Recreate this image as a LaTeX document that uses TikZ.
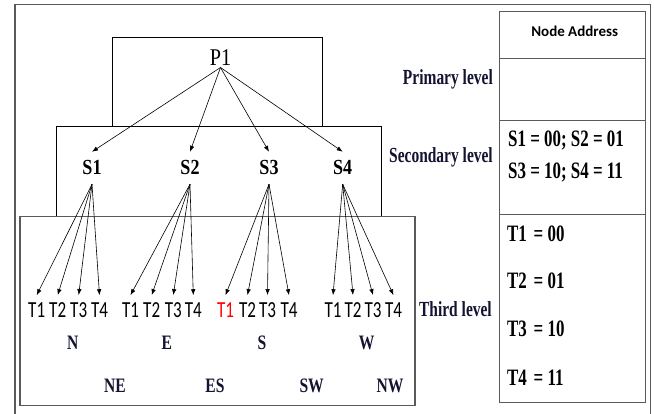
\documentclass[tikz,border=0pt]{standalone}
\usepackage{fontspec}
\usetikzlibrary{arrows.meta}
\newfontfamily\tnrC[FakeStretch=0.72]{Liberation Serif}
\newfontfamily\tnrD[FakeStretch=0.76]{Liberation Serif}
\newfontfamily\tnrW[FakeStretch=0.84]{Liberation Serif}
\newfontfamily\calC[FakeStretch=0.74]{Carlito}
\newfontfamily\calN{Carlito}
\definecolor{navytext}{RGB}{20,20,50}
\definecolor{framegray}{RGB}{90,90,90}
\begin{document}
\begin{tikzpicture}[x=1pt,y=-1pt,
  lbl/.style={anchor=base east, inner sep=0pt, font=\tnrC\bfseries\fontsize{21.5}{25}\selectfont, text=navytext},
  dirlbl/.style={anchor=base, inner sep=0pt, font=\tnrD\bfseries\fontsize{20.5}{24}\selectfont, text=navytext},
  snode/.style={anchor=base, inner sep=0pt, outer xsep=0pt, outer ysep=9pt, font=\tnrW\bfseries\fontsize{21.5}{25}\selectfont},
  tnode/.style={anchor=base, inner sep=0pt, outer xsep=0pt, outer ysep=8pt, font=\calC\fontsize{23}{27}\selectfont},
  addr/.style={anchor=base west, inner sep=0pt, font=\tnrC\bfseries\fontsize{23.5}{27}\selectfont},
  box/.style={draw=black, line width=0.8pt},
  arr/.style={-{Latex[length=6pt,width=4.5pt]}, line width=0.6pt}
]
\useasboundingbox (0,0) rectangle (654,414);
\fill[white] (0,0) rectangle (654,414);

% outer frame
\draw[framegray, line width=1.3pt] (15,414) -- (15,4.5) -- (650.3,4.5) -- (650.3,414);

% level boxes
\draw[box] (112.7,37.3) rectangle (322.3,126.7);
\draw[box] (56.7,126.7) rectangle (381.7,216.7);
\draw[box, draw=framegray, line width=1.1pt] (20,216.7) rectangle (415,405.7);

% address table
\draw[box, draw=framegray, line width=1pt] (499.3,12) rectangle (645.7,402.7);
\draw[framegray, line width=1pt] (499.3,59) -- (645.7,59);
\draw[framegray, line width=1pt] (499.3,120.7) -- (645.7,120.7);
\draw[framegray, line width=1pt] (499.3,214.7) -- (645.7,214.7);

\node[anchor=base, inner sep=0pt, font=\calN\bfseries\fontsize{15}{18}\selectfont] (na) at (574.7,37) {Node Address};
\node[addr] (sa) at (508,147) {S1 = 00; S2 = 01};
\node[addr] (sb) at (508,179) {S3 = 10; S4 = 11};
\node[addr] (ta) at (507,241.5) {T1\hspace{2.5pt} = 00};
\node[addr] (tb) at (507,289) {T2\hspace{2.5pt} = 01};
\node[addr] (tc) at (507,337) {T3\hspace{2.5pt} = 10};
\node[addr] (td) at (507,385) {T4\hspace{2.5pt} = 11};

% level labels
\node[lbl] (lp) at (493,85) {Primary level};
\node[lbl] (ls) at (493,163) {Secondary level};
\node[lbl] (lt) at (492,317) {Third level};

% primary
\node[anchor=base, inner sep=0pt, outer ysep=2pt, font=\tnrW\fontsize{24}{28}\selectfont] (p1) at (220.5,65.5) {P1};

% secondary
\node[snode] (s1) at (92,175) {S1};
\node[snode] (s2) at (190,175) {S2};
\node[snode] (s3) at (269,175) {S3};
\node[snode] (s4) at (342.7,175) {S4};

\foreach \s in {s1,s2,s3,s4} \draw[arr] (p1.south) -- (\s.north);

% third
\node[tnode] (a1) at (36.7,318) {T1};
\node[tnode] (a2) at (57.7,318) {T2};
\node[tnode] (a3) at (78.7,318) {T3};
\node[tnode] (a4) at (99.5,318) {T4};
\node[tnode] (b1) at (130.5,318) {T1};
\node[tnode] (b2) at (151.7,318) {T2};
\node[tnode] (b3) at (173.3,318) {T3};
\node[tnode] (b4) at (193.3,318) {T4};
\node[tnode, text=red] (c1) at (225.5,318) {T1};
\node[tnode] (c2) at (247.5,318) {T2};
\node[tnode] (c3) at (267.5,318) {T3};
\node[tnode] (c4) at (289,318) {T4};
\node[tnode] (d1) at (333,318) {T1};
\node[tnode] (d2) at (353,318) {T2};
\node[tnode] (d3) at (373,318) {T3};
\node[tnode] (d4) at (393.5,318) {T4};

\foreach \t in {a1,a2,a3,a4} \draw[arr] (s1.south) -- (\t.north);
\foreach \t in {b1,b2,b3,b4} \draw[arr] (s2.south) -- (\t.north);
\foreach \t in {c1,c2,c3,c4} \draw[arr] (s3.south) -- (\t.north);
\foreach \t in {d1,d2,d3,d4} \draw[arr] (s4.south) -- (\t.north);

% directions
\node[dirlbl] (dn) at (72.7,349) {N};
\node[dirlbl] (de) at (166.7,349) {E};
\node[dirlbl] (ds) at (262,349) {S};
\node[dirlbl] (dw) at (366.7,349) {W};
\node[dirlbl] (dne) at (115,392) {NE};
\node[dirlbl] (des) at (215,392) {ES};
\node[dirlbl] (dsw) at (311.7,392) {SW};
\node[dirlbl] (dnw) at (390,392) {NW};
\end{tikzpicture}
\end{document}
